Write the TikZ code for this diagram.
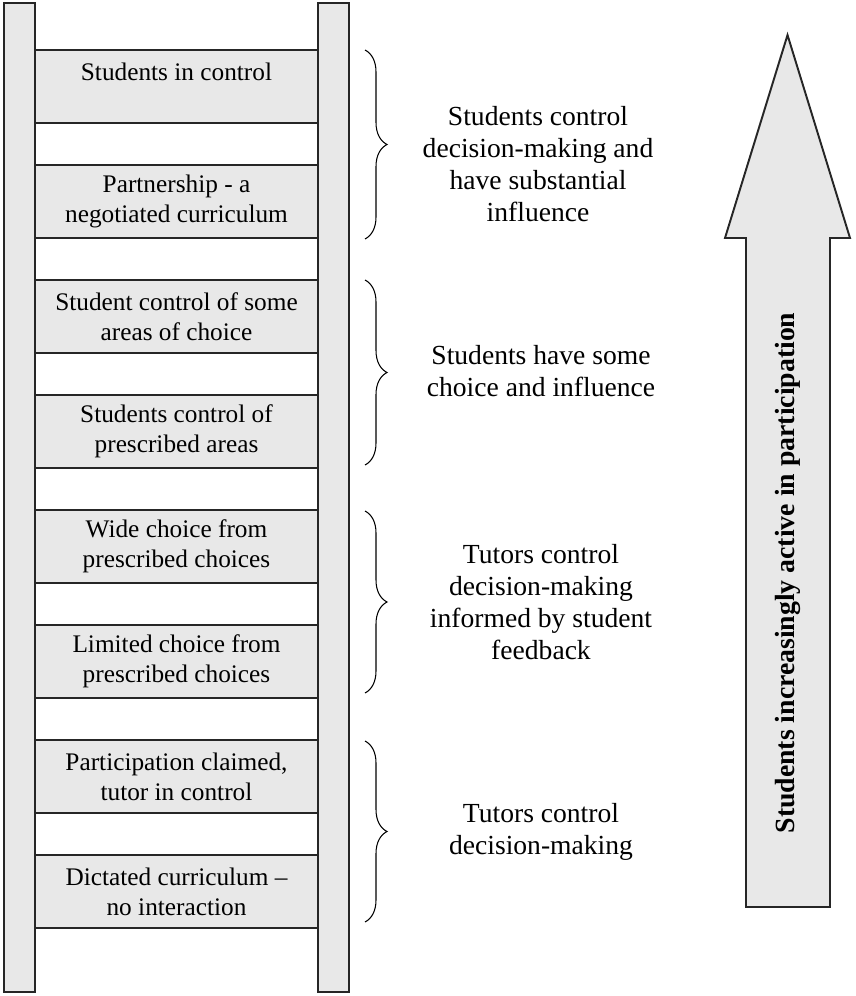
\documentclass[tikz,border=0pt]{standalone}
\usepackage{fontspec}
\setmainfont{Liberation Serif}
\usetikzlibrary{decorations.pathreplacing}

\begin{document}
\begin{tikzpicture}[x=0.02cm, y=0.02cm,
  rail/.style={draw=black!85, fill=black!9, line width=1.1pt},
  rung/.style={draw=black!85, fill=black!9, line width=1.1pt,
    minimum width=5.66cm, minimum height=1.46cm, inner sep=0pt,
    align=center, font=\fontsize{14.4}{17}\selectfont},
  grpbrace/.style={decorate, decoration={brace, amplitude=0.44cm}, line width=0.6pt},
  grplabel/.style={align=center, font=\fontsize{15.7}{18.2}\selectfont}]
  \useasboundingbox (0,0) rectangle (855,-996);

  % the two rails of the ladder
  \draw[rail] (4,-3) rectangle (35,-992);
  \draw[rail] (318,-3) rectangle (349,-992);

  % rungs, bottom one is the lowest level
  \foreach \txt [count=\i] in {{Students in control\\\mbox{}},
      {Partnership - a\\negotiated curriculum},
      {Student control of some\\areas of choice},
      {Students control of\\prescribed areas},
      {Wide choice from\\prescribed choices},
      {Limited choice from\\prescribed choices},
      {Participation claimed,\\tutor in control},
      {Dictated curriculum --\\no interaction}} {
    \node[rung] (rung\i) at (176.5,{-86.5-115*(\i-1)}) {\txt};
  }

  % braces grouping two rungs each
  \draw[grpbrace] (365,-50) -- (365,-239);
  \draw[grpbrace] (365,-280) -- (365,-465);
  \draw[grpbrace] (365,-511) -- (365,-693);
  \draw[grpbrace] (365,-741) -- (365,-922);

  \node[grplabel] (grp1) at (538,-164) {Students control\\decision-making and\\have substantial\\influence};
  \node[grplabel] (grp2) at (541,-371) {Students have some\\choice and influence};
  \node[grplabel] (grp3) at (541,-602) {Tutors control\\decision-making\\informed by student\\feedback};
  \node[grplabel] (grp4) at (541,-832) {Tutors control\\decision-making};

  % big arrow on the right
  \draw[rail] (746,-907) -- (746,-238) -- (725,-238) -- (787.5,-35)
    -- (850,-238) -- (830,-238) -- (830,-907) -- cycle;
  \node[rotate=90, font=\fontsize{15.8}{18}\selectfont\bfseries] (arrowtxt)
    at (788,-573) {Students increasingly active in participation};
\end{tikzpicture}
\end{document}
